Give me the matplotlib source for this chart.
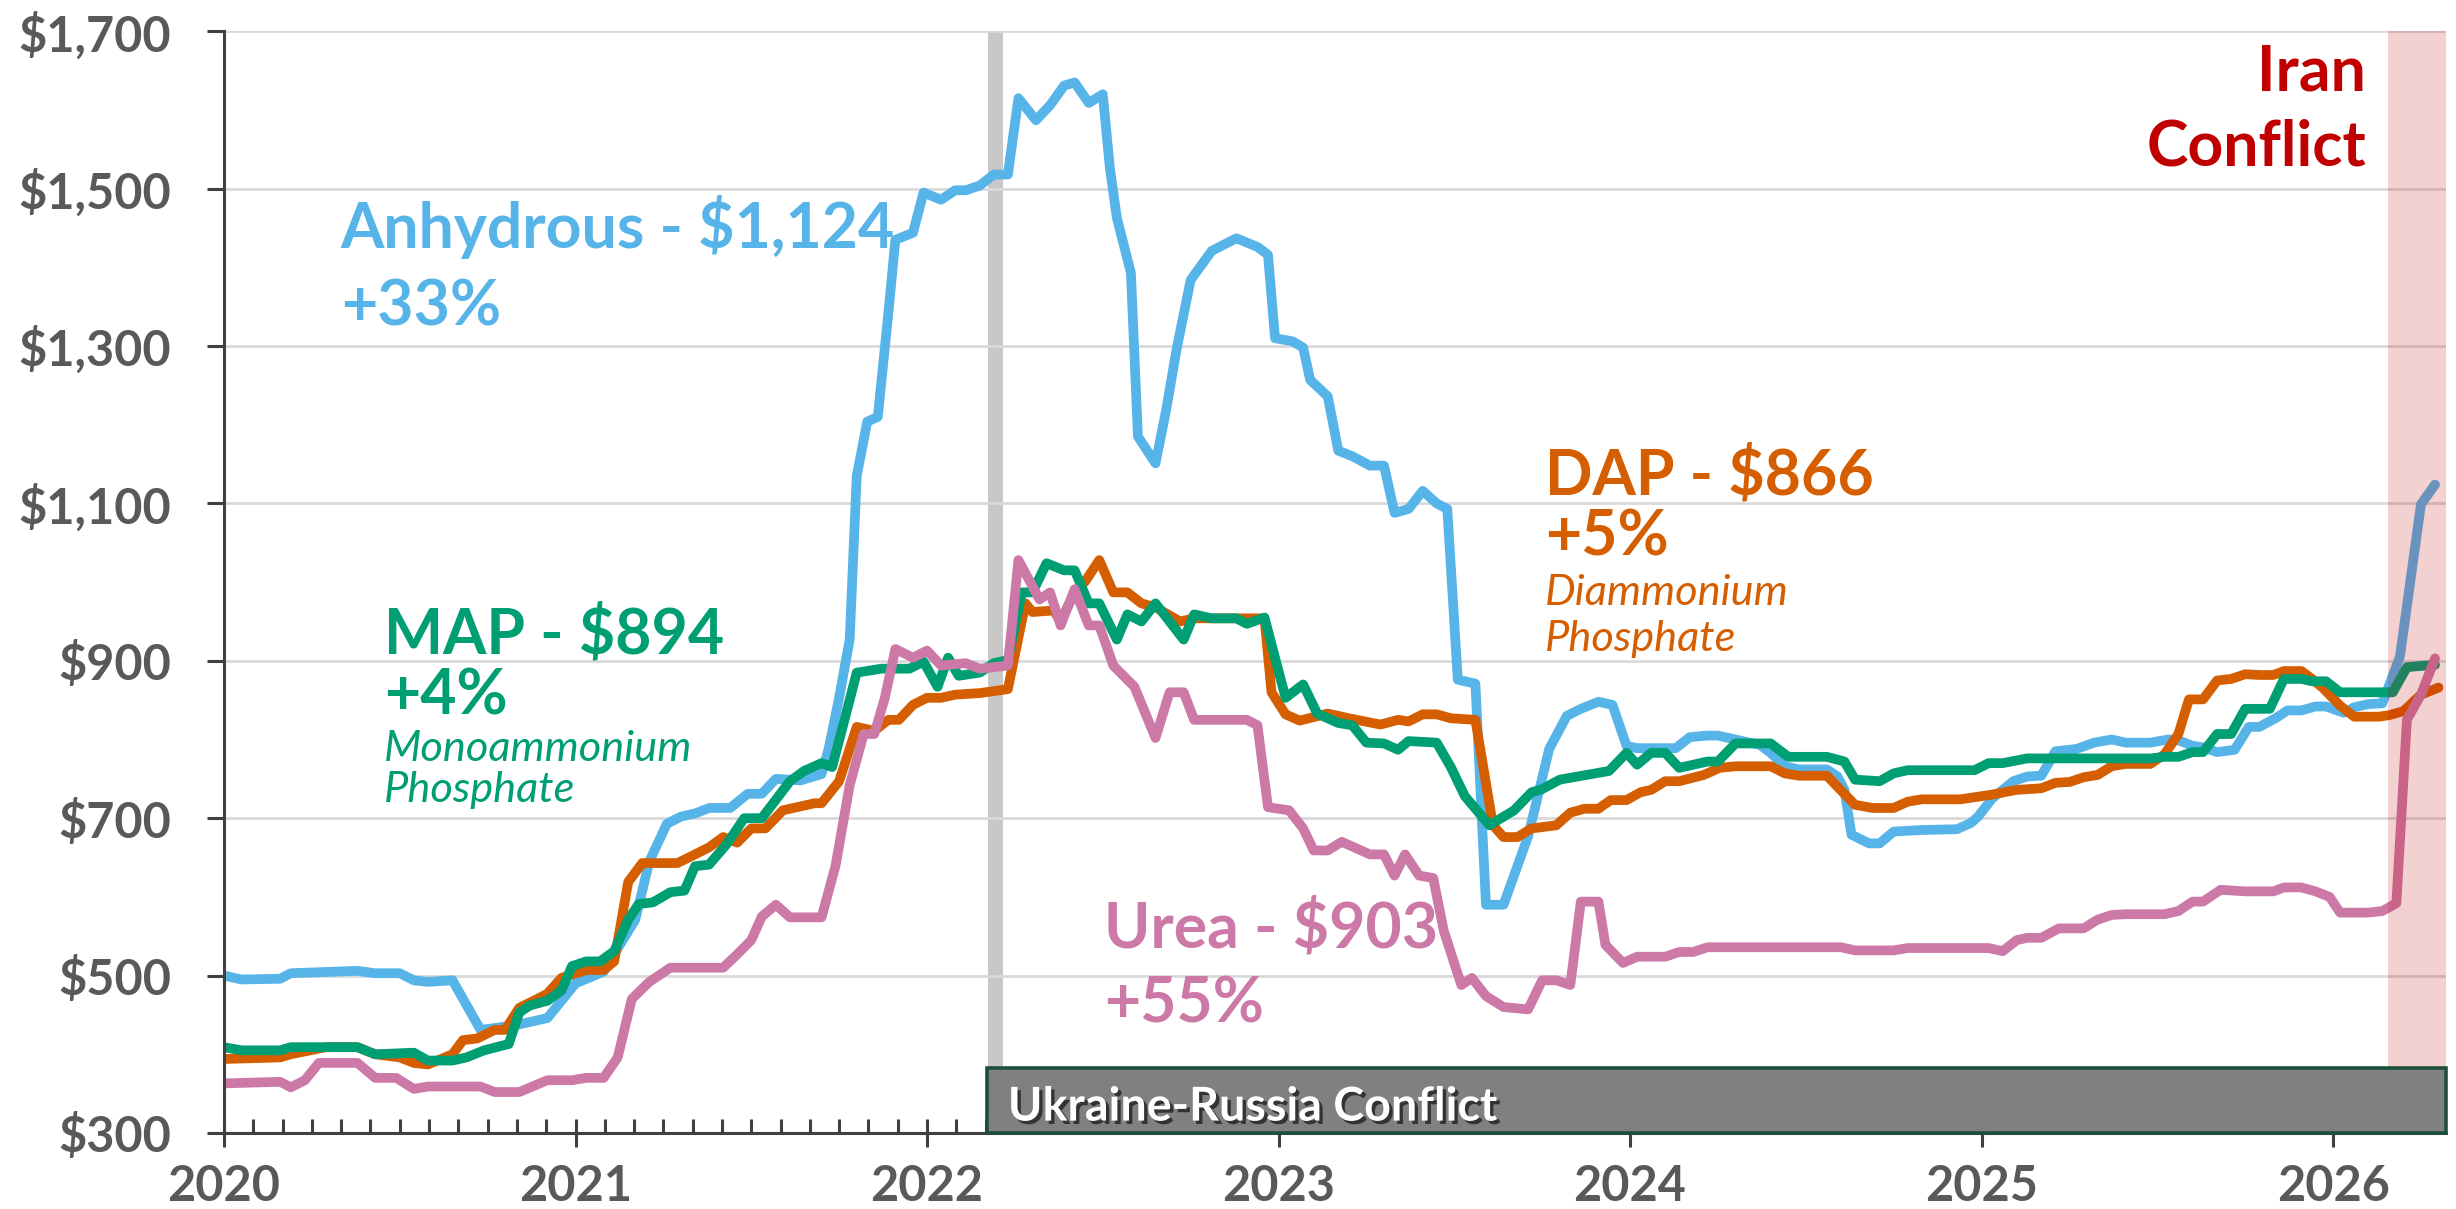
"""Retail fertilizer prices 2020-2026 with conflict markers."""

import matplotlib
matplotlib.use('Agg')
import matplotlib.patches as mpatches
import matplotlib.patheffects as pe
import matplotlib.pyplot as plt
from matplotlib.ticker import FuncFormatter, MultipleLocator

plt.rcParams['font.family'] = ['Lato', 'DejaVu Sans']

# --- data (decimal year, $/ton) ---
anhydrous_t = [
    2020.00, 2020.05, 2020.16, 2020.19, 2020.38, 2020.43, 2020.50, 2020.54, 2020.58, 2020.65,
    2020.73, 2020.83, 2020.92, 2021.00, 2021.08, 2021.11, 2021.17, 2021.21, 2021.26, 2021.30,
    2021.34, 2021.38, 2021.44, 2021.49, 2021.53, 2021.57, 2021.64, 2021.70, 2021.72, 2021.75,
    2021.78, 2021.80, 2021.83, 2021.86, 2021.89, 2021.91, 2021.96, 2021.99, 2022.04, 2022.08,
    2022.11, 2022.15, 2022.19, 2022.23, 2022.26, 2022.31, 2022.35, 2022.39, 2022.42, 2022.46,
    2022.50, 2022.52, 2022.54, 2022.58, 2022.60, 2022.65, 2022.68, 2022.71, 2022.75, 2022.81,
    2022.88, 2022.94, 2022.97, 2022.99, 2023.04, 2023.07, 2023.09, 2023.14, 2023.17, 2023.21,
    2023.26, 2023.30, 2023.33, 2023.37, 2023.41, 2023.45, 2023.48, 2023.51, 2023.56, 2023.59,
    2023.64, 2023.71, 2023.77, 2023.82, 2023.86, 2023.91, 2023.95, 2023.99, 2024.02, 2024.13,
    2024.17, 2024.22, 2024.25, 2024.29, 2024.33, 2024.37, 2024.40, 2024.44, 2024.48, 2024.56,
    2024.59, 2024.61, 2024.63, 2024.68, 2024.71, 2024.75, 2024.83, 2024.93, 2024.97, 2024.99,
    2025.03, 2025.09, 2025.13, 2025.17, 2025.21, 2025.27, 2025.32, 2025.37, 2025.41, 2025.48,
    2025.53, 2025.56, 2025.60, 2025.63, 2025.67, 2025.72, 2025.76, 2025.79, 2025.84, 2025.87,
    2025.91, 2025.95, 2025.98, 2026.03, 2026.06, 2026.10, 2026.14, 2026.19, 2026.25, 2026.29,
]
anhydrous = [
    500, 495, 496, 503, 506, 503, 503, 494, 492, 494,
    431, 437, 446, 490, 505, 527, 571, 645, 693, 702,
    706, 713, 713, 731, 731, 750, 748, 756, 788, 853,
    927, 1135, 1204, 1210, 1342, 1435, 1444, 1495, 1486, 1498,
    1498, 1504, 1518, 1518, 1615, 1587, 1606, 1631, 1635, 1609,
    1620, 1527, 1463, 1393, 1185, 1151, 1218, 1296, 1384, 1421,
    1437, 1426, 1416, 1310, 1306, 1298, 1257, 1236, 1167, 1160,
    1148, 1148, 1088, 1093, 1116, 1100, 1093, 876, 871, 590,
    590, 677, 788, 830, 839, 848, 844, 792, 789, 789,
    803, 805, 805, 801, 797, 793, 783, 766, 762, 762,
    753, 736, 679, 668, 668, 683, 685, 686, 694, 702,
    725, 747, 753, 754, 785, 788, 796, 800, 796, 796,
    800, 799, 792, 790, 784, 787, 816, 816, 828, 837,
    837, 842, 842, 834, 841, 845, 846, 905, 1099, 1124,
]

map_t = [
    2020.00, 2020.05, 2020.16, 2020.19, 2020.38, 2020.43, 2020.54, 2020.58, 2020.65, 2020.69,
    2020.74, 2020.81, 2020.84, 2020.87, 2020.92, 2020.96, 2020.99, 2021.03, 2021.07, 2021.11,
    2021.15, 2021.18, 2021.22, 2021.27, 2021.31, 2021.34, 2021.38, 2021.43, 2021.48, 2021.53,
    2021.61, 2021.65, 2021.70, 2021.73, 2021.76, 2021.80, 2021.87, 2021.95, 2021.99, 2022.03,
    2022.06, 2022.09, 2022.15, 2022.19, 2022.23, 2022.27, 2022.30, 2022.34, 2022.39, 2022.42,
    2022.46, 2022.49, 2022.54, 2022.57, 2022.61, 2022.65, 2022.73, 2022.76, 2022.81, 2022.88,
    2022.91, 2022.96, 2023.02, 2023.07, 2023.11, 2023.17, 2023.21, 2023.25, 2023.30, 2023.34,
    2023.37, 2023.45, 2023.49, 2023.53, 2023.60, 2023.67, 2023.72, 2023.75, 2023.80, 2023.94,
    2023.99, 2024.02, 2024.06, 2024.10, 2024.14, 2024.22, 2024.25, 2024.30, 2024.40, 2024.45,
    2024.56, 2024.61, 2024.64, 2024.71, 2024.75, 2024.79, 2024.98, 2025.02, 2025.06, 2025.13,
    2025.48, 2025.52, 2025.56, 2025.60, 2025.63, 2025.67, 2025.71, 2025.75, 2025.82, 2025.86,
    2025.91, 2025.94, 2025.98, 2026.02, 2026.17, 2026.21, 2026.29,
]
map_price = [
    409, 405, 405, 409, 409, 400, 402, 392, 392, 396,
    405, 413, 453, 462, 468, 481, 512, 518, 518, 531,
    571, 591, 593, 606, 608, 639, 641, 667, 700, 700,
    747, 760, 770, 765, 816, 885, 890, 890, 899, 867,
    904, 881, 885, 897, 901, 987, 987, 1024, 1015, 1015,
    973, 973, 927, 959, 950, 973, 927, 959, 954, 954,
    947, 955, 853, 870, 833, 821, 818, 796, 795, 787,
    798, 796, 765, 728, 691, 710, 733, 737, 749, 760,
    783, 768, 783, 783, 764, 772, 772, 795, 795, 778,
    778, 772, 749, 747, 757, 761, 761, 770, 770, 776,
    776, 778, 778, 784, 784, 807, 807, 839, 839, 877,
    877, 874, 874, 860, 860, 892, 895,
]

dap_t = [
    2020.00, 2020.16, 2020.19, 2020.29, 2020.38, 2020.43, 2020.50, 2020.54, 2020.58, 2020.65,
    2020.68, 2020.72, 2020.77, 2020.80, 2020.84, 2020.89, 2020.92, 2020.96, 2021.03, 2021.08,
    2021.11, 2021.15, 2021.19, 2021.29, 2021.34, 2021.38, 2021.42, 2021.46, 2021.50, 2021.54,
    2021.59, 2021.68, 2021.70, 2021.75, 2021.80, 2021.85, 2021.89, 2021.92, 2021.96, 2022.00,
    2022.04, 2022.08, 2022.15, 2022.23, 2022.28, 2022.30, 2022.36, 2022.38, 2022.42, 2022.45,
    2022.49, 2022.53, 2022.57, 2022.61, 2022.65, 2022.72, 2022.76, 2022.96, 2022.98, 2023.02,
    2023.06, 2023.14, 2023.20, 2023.29, 2023.34, 2023.37, 2023.41, 2023.45, 2023.49, 2023.56,
    2023.61, 2023.64, 2023.68, 2023.72, 2023.79, 2023.83, 2023.87, 2023.91, 2023.945, 2023.99,
    2024.03, 2024.06, 2024.10, 2024.14, 2024.21, 2024.255, 2024.30, 2024.40, 2024.44, 2024.48,
    2024.56, 2024.59, 2024.64, 2024.69, 2024.75, 2024.79, 2024.83, 2024.94, 2025.03, 2025.10,
    2025.17, 2025.21, 2025.25, 2025.29, 2025.33, 2025.37, 2025.41, 2025.48, 2025.52, 2025.56,
    2025.59, 2025.63, 2025.67, 2025.71, 2025.75, 2025.79, 2025.83, 2025.86, 2025.91, 2025.94,
    2025.97, 2026.02, 2026.06, 2026.13, 2026.16, 2026.20, 2026.25, 2026.30,
]
dap = [
    394, 396, 400, 409, 409, 400, 396, 389, 387, 400,
    418, 420, 431, 431, 459, 470, 477, 497, 507, 507,
    518, 619, 643, 643, 654, 663, 676, 669, 687, 687,
    710, 719, 719, 747, 816, 811, 825, 825, 844, 853,
    853, 857, 859, 864, 973, 962, 964, 950, 987, 1001,
    1028, 987, 987, 973, 968, 950, 954, 954, 860, 832,
    824, 833, 827, 819, 825, 823, 832, 832, 827, 825,
    691, 676, 676, 687, 691, 707, 712, 712, 723, 723,
    733, 736, 747, 747, 755, 764, 766, 766, 757, 754,
    754, 740, 717, 713, 713, 721, 724, 724, 730, 736,
    738, 745, 746, 752, 755, 766, 769, 769, 781, 807,
    851, 851, 875, 877, 883, 882, 882, 887, 887, 877,
    866, 843, 829, 829, 831, 836, 857, 866,
]

urea_t = [
    2020.00, 2020.16, 2020.19, 2020.23, 2020.27, 2020.38, 2020.43, 2020.49, 2020.54, 2020.58,
    2020.73, 2020.77, 2020.84, 2020.92, 2020.99, 2021.03, 2021.08, 2021.12, 2021.16, 2021.18,
    2021.21, 2021.27, 2021.42, 2021.46, 2021.50, 2021.53, 2021.57, 2021.61, 2021.70, 2021.74,
    2021.78, 2021.82, 2021.85, 2021.88, 2021.91, 2021.96, 2022.00, 2022.04, 2022.11, 2022.15,
    2022.23, 2022.26, 2022.32, 2022.35, 2022.38, 2022.42, 2022.46, 2022.49, 2022.53, 2022.59,
    2022.65, 2022.69, 2022.73, 2022.76, 2022.91, 2022.94, 2022.97, 2023.03, 2023.07, 2023.10,
    2023.14, 2023.18, 2023.21, 2023.26, 2023.30, 2023.33, 2023.36, 2023.40, 2023.44, 2023.47,
    2023.52, 2023.55, 2023.59, 2023.64, 2023.71, 2023.75, 2023.79, 2023.83, 2023.86, 2023.91,
    2023.93, 2023.98, 2024.02, 2024.10, 2024.14, 2024.18, 2024.22, 2024.60, 2024.64, 2024.75,
    2024.79, 2025.02, 2025.06, 2025.10, 2025.13, 2025.17, 2025.22, 2025.29, 2025.33, 2025.37,
    2025.41, 2025.52, 2025.56, 2025.60, 2025.63, 2025.68, 2025.75, 2025.83, 2025.86, 2025.91,
    2025.95, 2025.99, 2026.02, 2026.10, 2026.14, 2026.18, 2026.21, 2026.25, 2026.29,
]
urea = [
    363, 365, 358, 367, 389, 389, 370, 370, 356, 359,
    359, 352, 352, 367, 367, 370, 370, 396, 470, 479,
    492, 510, 510, 527, 545, 575, 590, 574, 574, 640,
    742, 807, 807, 853, 915, 904, 913, 894, 897, 890,
    894, 1028, 978, 987, 945, 991, 945, 945, 894, 867,
    802, 860, 860, 825, 825, 818, 714, 710, 687, 659,
    659, 670, 664, 654, 654, 627, 654, 627, 624, 557,
    488, 497, 474, 460, 457, 494, 494, 488, 594, 594,
    539, 516, 524, 524, 530, 530, 536, 536, 532, 532,
    535, 535, 531, 545, 548, 548, 560, 560, 571, 577,
    578, 578, 582, 594, 594, 609, 607, 607, 612, 612,
    607, 600, 580, 580, 582, 592, 825, 857, 903,
]

year_ticks = [2020, 2021, 2022, 2023, 2024, 2025, 2026]
price_ticks = [300, 500, 700, 900, 1100, 1300, 1500, 1700]

ukraine_start = 2022.172
ukraine_line = (2022.174, 2022.216)
iran_start = 2026.156

x_min, x_max = 2020.0, 2026.321
y_min, y_max = 300, 1700

BLUE = '#56B4E9'
ORANGE = '#D55E00'
GREEN = '#009E73'
PINK = '#CC79A7'
RED = '#C00000'
GREY_TXT = '#595959'
AXIS = '#404040'

fig = plt.figure(figsize=(12.28, 6.045), dpi=200)
ax = fig.add_axes([0.0912, 0.0629, 0.9047, 0.9112])

# Ukraine-Russia start marker (behind gridlines)
ax.axvspan(*ukraine_line, color='#C8C8C8', lw=0, zorder=0.3)
ax.set_axisbelow(True)
ax.yaxis.grid(True, color='#D9D9D9', lw=1.0)

line_kw = dict(lw=3.5, solid_capstyle='round', solid_joinstyle='round')
ax.plot(anhydrous_t, anhydrous, color=BLUE, zorder=2.0, **line_kw)
ax.plot(dap_t, dap, color=ORANGE, zorder=2.1, **line_kw)
ax.plot(map_t, map_price, color=GREEN, zorder=2.2, **line_kw)
ax.plot(urea_t, urea, color=PINK, zorder=2.3, **line_kw)

# Iran conflict shading drawn over the lines
ax.axvspan(iran_start, x_max, color=RED, alpha=0.18, lw=0, zorder=3)

# Ukraine-Russia box along the bottom
box = mpatches.Rectangle((ukraine_start, y_min), x_max - ukraine_start, 83,
                         facecolor='#808080', edgecolor='#1E4E3C', lw=1.3,
                         zorder=4, clip_on=False)
ax.add_patch(box)
ax.text(2022.230, 315.7, 'Ukraine-Russia Conflict', color='white', fontsize=16.8,
        fontweight='bold', ha='left', va='baseline', zorder=5,
        path_effects=[pe.withSimplePatchShadow(offset=(1.2, -1.2), shadow_rgbFace='black', alpha=0.6)])

# Series annotations
bold = dict(fontsize=22.5, fontweight='bold', ha='left', va='baseline', zorder=5)
ital = dict(fontsize=15.6, style='italic', ha='left', va='baseline', zorder=5)

ax.text(2020.332, 1424, 'Anhydrous - $1,124', color=BLUE, **bold)
ax.text(2020.332, 1326, '+33%', color=BLUE, **bold)

ax.text(2020.455, 909, 'MAP - $894', color=GREEN, **bold)
ax.text(2020.455, 832, '+4%', color=GREEN, **bold)
ax.text(2020.455, 773, 'Monoammonium', color=GREEN, **ital)
ax.text(2020.455, 720, 'Phosphate', color=GREEN, **ital)

ax.text(2023.758, 1111, 'DAP - $866', color=ORANGE, **bold)
ax.text(2023.758, 1034, '+5%', color=ORANGE, **bold)
ax.text(2023.758, 971, 'Diammonium', color=ORANGE, **ital)
ax.text(2023.758, 913, 'Phosphate', color=ORANGE, **ital)

ax.text(2022.503, 536, 'Urea - $903', color=PINK, **bold)
ax.text(2022.503, 440, '+55%', color=PINK, **bold)

ax.text(2026.094, 1625, 'Iran', color=RED, fontsize=22.5, fontweight='bold',
        ha='right', va='baseline', zorder=5)
ax.text(2026.094, 1529, 'Conflict', color=RED, fontsize=22.5, fontweight='bold',
        ha='right', va='baseline', zorder=5)

# Axes formatting
ax.set_xlim(x_min, x_max)
ax.set_ylim(y_min, y_max)
ax.set_xticks(year_ticks, [str(y) for y in year_ticks], fontweight='bold')
ax.xaxis.set_minor_locator(MultipleLocator(1 / 12))
ax.set_yticks(price_ticks)
ax.yaxis.set_major_formatter(FuncFormatter(lambda v, _: f'${v:,.0f}'))
for lbl in ax.get_yticklabels():
    lbl.set_fontweight('bold')

ax.tick_params(axis='y', length=6, width=1.1, color=AXIS, pad=13,
               labelsize=17.5, labelcolor=GREY_TXT)
ax.tick_params(axis='x', which='major', direction='inout', length=10, width=1.1,
               color=AXIS, pad=6, labelsize=17.5, labelcolor=GREY_TXT)
ax.tick_params(axis='x', which='minor', direction='in', length=5, width=1.1, color=AXIS)

for side in ('top', 'right'):
    ax.spines[side].set_visible(False)
for side in ('left', 'bottom'):
    ax.spines[side].set_color(AXIS)
    ax.spines[side].set_linewidth(1.1)

plt.savefig('out.png', dpi=200)
plt.close()
